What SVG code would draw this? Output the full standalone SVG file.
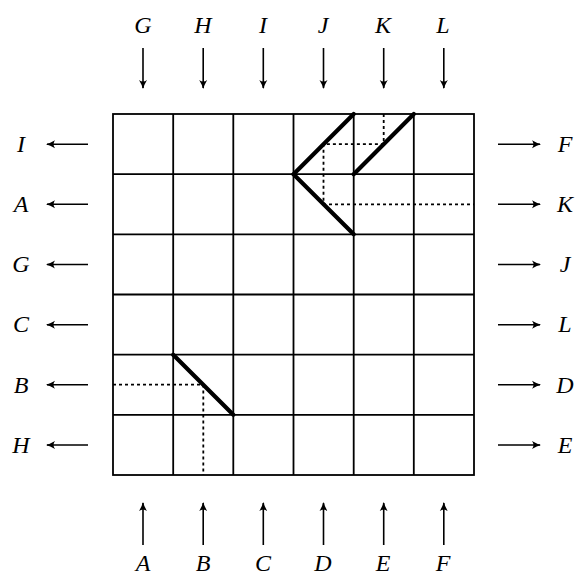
<svg xmlns="http://www.w3.org/2000/svg" width="577" height="578" viewBox="0 0 577 578">
<style>
.g{stroke:#000;stroke-width:1.8;fill:none}
.t{stroke:#000;stroke-width:4.2;fill:none;stroke-linecap:round}
.d{stroke:#000;stroke-width:1.8;fill:none;stroke-dasharray:3,3}
.a line{stroke:#000;stroke-width:1.6;marker-end:url(#ah)}
text{font-family:"Liberation Serif","Times New Roman",serif;font-style:italic;font-size:24px;text-anchor:middle}
</style>
<defs>
<marker id="ah" markerWidth="12" markerHeight="12" refX="9" refY="5" orient="auto" markerUnits="userSpaceOnUse">
<path d="M1,1 Q6,4 10,5 Q6,6 1,9 Q4,5 1,1 Z" fill="#000"/>
</marker>
</defs>
<g id="grid">
<rect class="g" x="113" y="114" width="361" height="361"/>
<path class="g" d="M173.2,114V475M233.3,114V475M293.5,114V475M353.7,114V475M413.8,114V475M113,174.2H474M113,234.3H474M113,294.5H474M113,354.7H474M113,414.8H474"/>
</g>
<g id="paths">
<path class="t" d="M353.7,114L293.5,174.2L353.7,234.3M353.7,174.2L413.8,114M173.2,354.7L233.3,414.8"/>
<path class="d" d="M383.7,114V144.2H323.5V204.3H474M113,384.7H203.3V475"/>
</g>
<g id="connectors" class="a">
<line x1="143" y1="48" x2="143" y2="88"/><line x1="203.2" y1="48" x2="203.2" y2="88"/><line x1="263.3" y1="48" x2="263.3" y2="88"/><line x1="323.5" y1="48" x2="323.5" y2="88"/><line x1="383.7" y1="48" x2="383.7" y2="88"/><line x1="443.8" y1="48" x2="443.8" y2="88"/>
<line x1="143" y1="545" x2="143" y2="503"/><line x1="203.2" y1="545" x2="203.2" y2="503"/><line x1="263.3" y1="545" x2="263.3" y2="503"/><line x1="323.5" y1="545" x2="323.5" y2="503"/><line x1="383.7" y1="545" x2="383.7" y2="503"/><line x1="443.8" y1="545" x2="443.8" y2="503"/>
<line x1="88" y1="144.2" x2="47" y2="144.2"/><line x1="88" y1="204.3" x2="47" y2="204.3"/><line x1="88" y1="264.5" x2="47" y2="264.5"/><line x1="88" y1="324.7" x2="47" y2="324.7"/><line x1="88" y1="384.8" x2="47" y2="384.8"/><line x1="88" y1="445" x2="47" y2="445"/>
<line x1="498" y1="144.2" x2="540" y2="144.2"/><line x1="498" y1="204.3" x2="540" y2="204.3"/><line x1="498" y1="264.5" x2="540" y2="264.5"/><line x1="498" y1="324.7" x2="540" y2="324.7"/><line x1="498" y1="384.8" x2="540" y2="384.8"/><line x1="498" y1="445" x2="540" y2="445"/>
</g>
<g id="labels">
<text x="143" y="33">G</text><text x="203" y="33">H</text><text x="263" y="33">I</text><text x="323" y="33">J</text><text x="383" y="33">K</text><text x="443" y="33">L</text>
<text x="143" y="571">A</text><text x="203" y="571">B</text><text x="263" y="571">C</text><text x="323" y="571">D</text><text x="383" y="571">E</text><text x="443" y="571">F</text>
<text x="21" y="152">I</text><text x="21" y="212">A</text><text x="21" y="272">G</text><text x="21" y="332">C</text><text x="21" y="393">B</text><text x="21" y="453">H</text>
<text x="565" y="152">F</text><text x="565" y="212">K</text><text x="565" y="272">J</text><text x="565" y="332">L</text><text x="565" y="393">D</text><text x="565" y="453">E</text>
</g>
</svg>
